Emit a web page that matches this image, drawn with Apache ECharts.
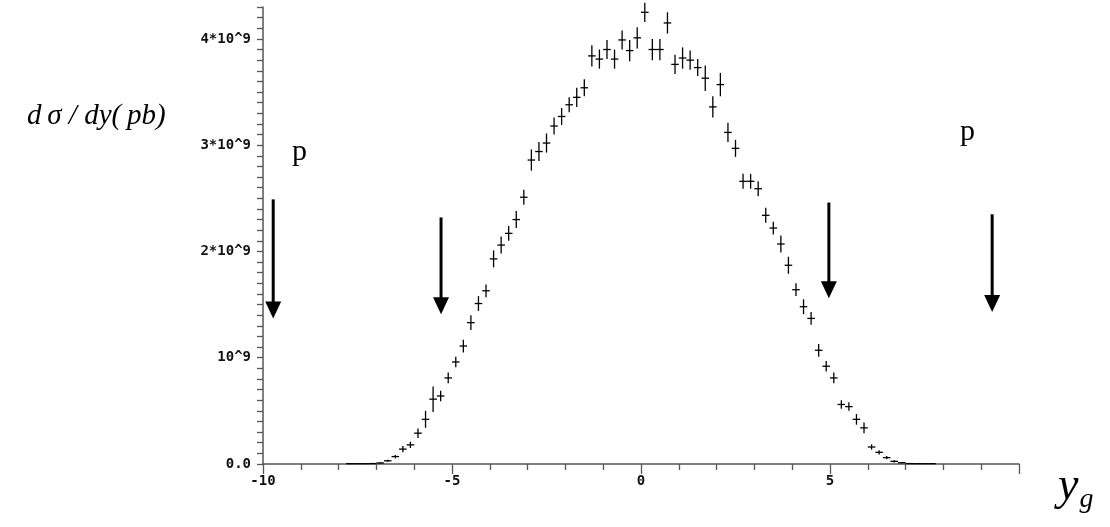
<!DOCTYPE html>
<html><head><meta charset="utf-8">
<script src="https://cdn.jsdelivr.net/npm/echarts@6/dist/echarts.min.js"></script>
<style>html,body{margin:0;padding:0;background:#fff}#c{width:1110px;height:527px}</style>
</head><body><div id="c"></div>
<script>
// bin centres (y_g), values and half errors in units of 10^9 pb
const binCenters = [-7.7,-7.5,-7.3,-7.1,-6.9,-6.7,-6.5,-6.3,-6.1,-5.9,-5.7,-5.5,-5.3,-5.1,-4.9,-4.7,-4.5,-4.3,-4.1,-3.9,
  -3.7,-3.5,-3.3,-3.1,-2.9,-2.7,-2.5,-2.3,-2.1,-1.9,-1.7,-1.5,-1.3,-1.1,-0.9,-0.7,-0.5,-0.3,-0.1,
  0.1,0.3,0.5,0.7,0.9,1.1,1.3,1.5,1.7,1.9,2.1,2.3,2.5,2.7,2.9,3.1,3.3,3.5,3.7,3.9,
  4.1,4.3,4.5,4.7,4.9,5.1,5.3,5.5,5.7,5.9,6.1,6.3,6.5,6.7,6.9,7.1,7.3,7.5,7.7];
const values = [0.003,0.003,0.003,0.004,0.01,0.03,0.07,0.14,0.18,0.29,0.42,0.61,0.64,0.81,0.96,1.11,1.33,1.51,1.63,1.93,
  2.06,2.17,2.30,2.51,2.86,2.94,3.02,3.18,3.27,3.38,3.45,3.54,3.84,3.81,3.90,3.81,3.99,3.89,4.01,
  4.25,3.90,3.90,4.15,3.76,3.82,3.80,3.73,3.63,3.36,3.57,3.12,2.97,2.66,2.66,2.59,2.34,2.22,2.07,1.87,
  1.64,1.48,1.37,1.07,0.92,0.81,0.56,0.54,0.42,0.34,0.16,0.11,0.06,0.025,0.012,0.004,0.003,0.003,0.003];
const errors = [0,0,0,0,0.005,0.01,0.015,0.03,0.03,0.045,0.08,0.12,0.05,0.05,0.05,0.06,0.07,0.07,0.06,0.08,
  0.08,0.07,0.08,0.07,0.10,0.09,0.09,0.08,0.08,0.07,0.09,0.08,0.10,0.09,0.09,0.09,0.09,0.10,0.10,
  0.09,0.10,0.10,0.10,0.09,0.10,0.09,0.08,0.12,0.10,0.11,0.09,0.08,0.07,0.07,0.07,0.07,0.06,0.08,0.08,
  0.06,0.07,0.06,0.06,0.05,0.05,0.04,0.04,0.05,0.05,0.025,0.02,0.015,0.01,0.005,0,0,0,0];
const binHalfWidth = 0.1;

const xTickValues = [-10, -5, 0, 5];
const xTickLabels = ['-10', '-5', '0', '5'];
const yTickValues = [0, 1, 2, 3, 4];
const yTickLabels = ['0.0', '10^9', '2*10^9', '3*10^9', '4*10^9'];

// annotation arrows (data coordinates)
const arrowX = [-9.73, -5.29, 4.97, 9.29];
const arrowTop = [2.49, 2.32, 2.46, 2.35];
const arrowTip = [1.37, 1.41, 1.56, 1.43];

const chart = echarts.init(document.getElementById('c'), null, {renderer: 'canvas'});
const labelFont = {fontFamily: 'DejaVu Sans Mono', fontWeight: 'bold', fontSize: 14, color: '#111'};

function findLabel(vals, labs, v) {
  for (let i = 0; i < vals.length; i++) if (Math.abs(vals[i] - v) < 1e-6) return labs[i];
  return '';
}

chart.setOption({
  animation: false,
  backgroundColor: '#fff',
  grid: {left: 263, right: 91, top: 7, bottom: 63, containLabel: false},
  xAxis: {
    type: 'value', min: -10, max: 10, interval: 5,
    axisLine: {show: true, onZero: false, lineStyle: {color: '#555', width: 1.5}},
    axisTick: {show: true, length: 10, lineStyle: {color: '#555', width: 1.3}},
    minorTick: {show: true, splitNumber: 5, length: 6, lineStyle: {color: '#555', width: 1.3}},
    splitLine: {show: false},
    axisLabel: Object.assign({margin: 10, formatter: v => findLabel(xTickValues, xTickLabels, v)}, labelFont)
  },
  yAxis: {
    type: 'value', min: 0, max: 4.3, interval: 0.1,
    axisLine: {show: true, onZero: false, lineStyle: {color: '#555', width: 1.5}},
    axisTick: {show: true, length: 6, lineStyle: {color: '#555', width: 1.3}},
    splitLine: {show: false},
    axisLabel: Object.assign({margin: 12, formatter: v => findLabel(yTickValues, yTickLabels, v)}, labelFont)
  },
  series: [{
    type: 'custom',
    data: binCenters.map((x, i) => [x, values[i], errors[i]]),
    renderItem: function (params, api) {
      const x = api.value(0), y = api.value(1), e = api.value(2);
      const l = api.coord([x - binHalfWidth, y]), r = api.coord([x + binHalfWidth, y]);
      const t = api.coord([x, y + e]), b = api.coord([x, y - e]);
      const style = {stroke: '#000', lineWidth: 1.3};
      const children = [{type: 'line', shape: {x1: l[0], y1: l[1], x2: r[0], y2: r[1]}, style: style}];
      if (e > 0) children.push({type: 'line', shape: {x1: t[0], y1: t[1], x2: b[0], y2: b[1]}, style: style});
      return {type: 'group', children: children};
    }
  }]
});

const g = [];
for (let i = 0; i < arrowX.length; i++) {
  const p1 = chart.convertToPixel({gridIndex: 0}, [arrowX[i], arrowTop[i]]);
  const p2 = chart.convertToPixel({gridIndex: 0}, [arrowX[i], arrowTip[i]]);
  const hh = 17, hw = 8;
  g.push({type: 'line', shape: {x1: p1[0], y1: p1[1], x2: p2[0], y2: p2[1] - hh + 2}, style: {stroke: '#000', lineWidth: 3}});
  g.push({type: 'polygon', shape: {points: [[p2[0] - hw, p2[1] - hh], [p2[0] + hw, p2[1] - hh], [p2[0], p2[1]]]}, style: {fill: '#000'}});
}
const serif = 'Liberation Serif';
g.push({type: 'text', left: 292, top: 137, style: {text: 'p', fontFamily: serif, fontSize: 30, fill: '#000'}});
g.push({type: 'text', left: 960, top: 117, style: {text: 'p', fontFamily: serif, fontSize: 30, fill: '#000'}});
g.push({type: 'text', left: 27, top: 102, style: {text: 'd\u2009σ / dy(\u2009pb)', fontFamily: serif, fontStyle: 'italic', fontSize: 29, fill: '#000'}});
g.push({type: 'text', left: 1058, top: 464, style: {
  text: '{y|y}{s|g}', rich: {
    y: {fontFamily: serif, fontStyle: 'italic', fontSize: 46, fill: '#000'},
    s: {fontFamily: serif, fontStyle: 'italic', fontSize: 28, fill: '#000', padding: [26, 0, 0, 1]}
  }}});
chart.setOption({graphic: g});
</script>
</body></html>
